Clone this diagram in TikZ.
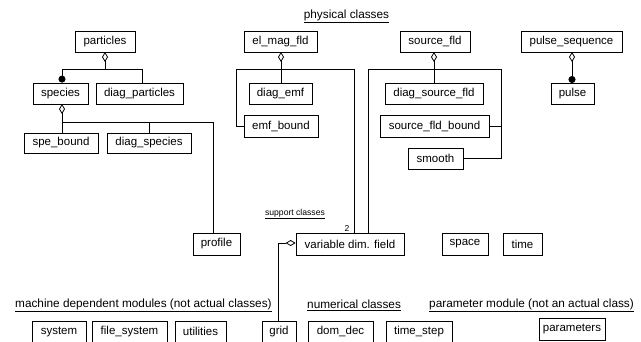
\documentclass[tikz,border=0pt]{standalone}
\usepackage{fontspec}
\setmainfont{Liberation Sans}
\usetikzlibrary{arrows.meta}
\begin{document}
\begin{tikzpicture}[x=1pt,y=-1pt,
  box/.style={draw, line width=0.8pt, inner sep=0pt, minimum height=21pt, font=\fontsize{11.5}{13}\selectfont},
  lbl/.style={inner sep=0pt, font=\fontsize{11.8}{13}\selectfont},
  small/.style={inner sep=0pt, font=\fontsize{8.6}{10}\selectfont},
  conn/.style={line width=0.8pt},
  agg/.style={conn, {Diamond[open,length=10pt,width=6pt]}-},
  comp/.style={conn, -{Circle[length=7pt]}}
]
\useasboundingbox (0,0) rectangle (641,341);

% physical classes
\node[lbl] (lphys) at (346.5,16) {\underline{physical classes}};
\node[box, minimum width=60pt] (particles) at (105,41.5) {particles};
\node[box, minimum width=55pt] (species) at (60.5,93.5) {species};
\node[box, minimum width=87pt] (diagp) at (139.5,93.5) {diag\_particles};
\node[box, minimum width=74pt, minimum height=20pt] (spebound) at (61,143) {spe\_bound};
\node[box, minimum width=84pt, minimum height=20pt] (diags) at (149,143) {diag\_species};
\node[box, minimum width=73pt] (elmag) at (280.5,41.5) {el\_mag\_fld};
\node[box, minimum width=63pt] (diagemf) at (280.5,93.5) {diag\_emf};
\node[box, minimum width=74pt, minimum height=22pt] (emfbound) at (281,126) {emf\_bound};
\node[box, minimum width=70pt] (srcfld) at (435,41.5) {source\_fld};
\node[box, minimum width=98pt] (diagsrc) at (434,93.5) {diag\_source\_fld};
\node[box, minimum width=109pt, minimum height=22pt] (srcbound) at (434.5,126) {source\_fld\_bound};
\node[box, minimum width=55pt] (smooth) at (435.5,158.5) {smooth};
\node[box, minimum width=101pt] (pulseseq) at (571.5,41.5) {pulse\_sequence};
\node[box, minimum width=43pt] (pulse) at (572.5,93.5) {pulse};

% support classes
\node[small] (lsupp) at (295,214) {\underline{support classes}};
\node[box, minimum width=47pt, minimum height=22pt] (profile) at (216.5,244) {profile};
\node[box, minimum width=108pt, minimum height=22pt] (vdf) at (350,244) {variable dim. field};
\node[box, minimum width=46pt, minimum height=22pt] (space) at (465,244) {space};
\node[box, minimum width=39pt, minimum height=22pt] (time) at (522.5,244) {time};
\node[small] (two) at (347,228) {2};

% bottom groups
\node[lbl, anchor=west] (lmach) at (15,305) {\underline{machine dependent modules (not actual classes)}};
\node[lbl, anchor=west] (lnum) at (307,305) {\underline{numerical classes}};
\node[lbl, anchor=west] (lpar) at (429,305) {\underline{parameter module (not an actual class)}};
\node[box, minimum width=54pt] (system) at (59,331.5) {system};
\node[box, minimum width=75pt] (filesys) at (129.5,331.5) {file\_system};
\node[box, minimum width=51pt] (util) at (200.5,331.5) {utilities};
\node[box, minimum width=34pt] (grid) at (279,331.5) {grid};
\node[box, minimum width=65pt] (domdec) at (340.5,331.5) {dom\_dec};
\node[box, minimum width=66pt] (tstep) at (419,331.5) {time\_step};
\node[box, minimum width=66pt, minimum height=22pt] (params) at (572,329) {parameters};

% junction coordinates
\coordinate (pj) at (105,69);
\coordinate (pl) at (62,69);
\coordinate (pr) at (142,69);
\coordinate (sj) at (62,122);
\coordinate (sr) at (213,122);
\coordinate (sm) at (149,122);
\coordinate (ej) at (281,69);
\coordinate (el) at (236,69);
\coordinate (er) at (354,69);
\coordinate (fj) at (434,69);
\coordinate (fl) at (368,69);
\coordinate (fr) at (501,69);
\coordinate (vj) at (278,243);

% particles
\draw[agg] (105,52) -- (pj);
\draw[conn] (pl) -- (pr);
\draw[comp] (pl) -- (pl |- species.north);
\draw[conn] (pr) -- (pr |- diagp.north);
% species
\draw[agg] (62,104) -- (sj);
\draw[conn] (sj) -- (sr);
\draw[conn] (sj) -- (sj |- spebound.north);
\draw[conn] (sm) -- (sm |- diags.north);
\draw[conn] (sr) -- (sr |- profile.north);
% el_mag_fld
\draw[agg] (281,52) -- (ej |- diagemf.north);
\draw[conn] (el) -- (er);
\draw[conn] (el) |- (emfbound.west);
\draw[conn] (er) -- (er |- vdf.north);
% source_fld
\draw[agg] (434,52) -- (fj |- diagsrc.north);
\draw[conn] (fl) -- (fr);
\draw[conn] (fl) -- (fl |- vdf.north);
\draw[conn] (fr) |- (smooth.east);
\draw[conn] (srcbound.east) -- (fr |- srcbound.east);
% pulse
\draw[agg] (572,52) -- (572,62);
\draw[comp] (572,62) -- (572 ,83);
% variable dim. field
\draw[agg] (vdf.west |- vj) -- (vj) -- (vj |- grid.north);
\end{tikzpicture}
\end{document}
